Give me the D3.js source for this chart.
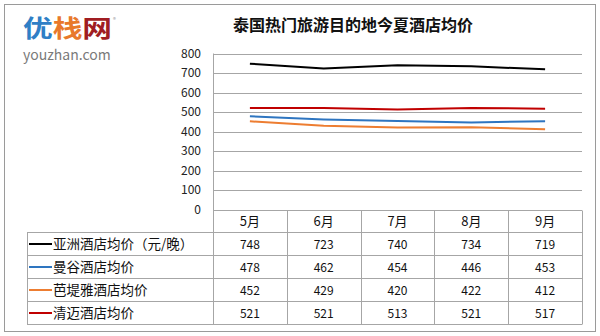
<!DOCTYPE html>
<html>
<head>
<meta charset="utf-8">
<script src="https://cdn.jsdelivr.net/npm/d3@7"></script>
<style>
  html, body { margin: 0; padding: 0; background: #fff; }
  svg { display: block; }
  text { font-family: "Noto Sans CJK SC", "Noto Sans", sans-serif; }
</style>
</head>
<body>
<svg id="chart" width="600" height="336"></svg>
<script>
// Months along the x axis
const months = ["5月", "6月", "7月", "8月", "9月"];
// Series names (legend column of the data table)
const seriesNames = ["亚洲酒店均价（元/晚）", "曼谷酒店均价", "芭堤雅酒店均价", "清迈酒店均价"];
// Average hotel prices per series, one value per month
const asiaValues = [748, 723, 740, 734, 719];
const bangkokValues = [478, 462, 454, 446, 453];
const pattayaValues = [452, 429, 420, 422, 412];
const chiangmaiValues = [521, 521, 513, 521, 517];
const seriesColors = ["#000000", "#2e75c0", "#ed7d31", "#c00000"];
// Y axis ticks
const yTicks = [0, 100, 200, 300, 400, 500, 600, 700, 800];

const seriesValues = [asiaValues, bangkokValues, pattayaValues, chiangmaiValues];

const svg = d3.select("#chart");

// Outer frame
svg.append("rect")
  .attr("x", 4.5).attr("y", 4.5).attr("width", 591).attr("height", 327)
  .attr("fill", "#fff").attr("stroke", "#9a9a9a").attr("stroke-width", 1);

// Brand logo
const logo = svg.append("text").attr("x", 23).attr("y", 37)
  .attr("font-size", 24).attr("font-weight", "bold")
  .attr("textLength", 89).attr("lengthAdjust", "spacingAndGlyphs");
logo.append("tspan").attr("fill", "#2f7fc6").text("优");
logo.append("tspan").attr("fill", "#e8792b").text("栈");
logo.append("tspan").attr("fill", "#a01d22").text("网");
svg.append("text").attr("x", 113).attr("y", 22).attr("font-size", 6)
  .attr("fill", "#999").text("®");
svg.append("text").attr("x", 23).attr("y", 60)
  .attr("font-size", 14).attr("fill", "#7a7a7a")
  .attr("font-family", "'Open Sans', 'DejaVu Sans', sans-serif")
  .text("youzhan.com");

// Title
svg.append("text").attr("x", 353).attr("y", 31)
  .attr("text-anchor", "middle").attr("font-size", 16).attr("font-weight", "bold")
  .attr("fill", "#111").text("泰国热门旅游目的地今夏酒店均价");

// Scales
const plotLeft = 213, plotRight = 582, plotTop = 53.5, plotBottom = 209.5;
const x = d3.scaleBand().domain(months).range([plotLeft, plotRight]);
const y = d3.scaleLinear().domain([0, 800]).range([plotBottom, plotTop]);

// Horizontal gridlines
svg.append("g").selectAll("line").data(yTicks).join("line")
  .attr("x1", plotLeft).attr("x2", plotRight)
  .attr("y1", d => Math.round(y(d)) + 0.5).attr("y2", d => Math.round(y(d)) + 0.5)
  .attr("stroke", "#a6a6a6").attr("stroke-width", 1);

// Y axis labels
const yAxis = d3.axisLeft(y).tickValues(yTicks).tickSize(0).tickPadding(12);
const gy = svg.append("g").attr("transform", `translate(${plotLeft},0)`).call(yAxis);
gy.select(".domain").remove();
gy.selectAll("text").attr("font-size", 12).attr("fill", "#222")
  .attr("font-family", "'DejaVu Sans', 'Noto Sans', sans-serif");

// Series lines
const line = d3.line()
  .x((d, i) => x(months[i]) + x.bandwidth() / 2)
  .y(d => y(d));
svg.append("g").selectAll("path").data(seriesValues).join("path")
  .attr("d", d => line(d))
  .attr("fill", "none")
  .attr("stroke", (d, i) => seriesColors[i])
  .attr("stroke-width", 2);

// Data table
const tableLeft = 27, headerTop = plotBottom, rowH = 23;
const headerBottom = 232;
const grid = svg.append("g").attr("stroke", "#a6a6a6").attr("stroke-width", 1);

// Row separators
const rowYs = d3.range(seriesNames.length + 1).map(i => headerBottom + i * rowH);
grid.selectAll("line.row").data(rowYs).join("line").attr("class", "row")
  .attr("x1", tableLeft).attr("x2", plotRight)
  .attr("y1", d => Math.round(d) + 0.5).attr("y2", d => Math.round(d) + 0.5);

// Column separators
const colXs = months.map(m => x(m)).concat([plotRight]);
grid.selectAll("line.col").data(colXs).join("line").attr("class", "col")
  .attr("x1", d => Math.round(d) + 0.5).attr("x2", d => Math.round(d) + 0.5)
  .attr("y1", (d, i) => i === 0 ? plotTop : Math.round(headerTop) + 0.5)
  .attr("y2", Math.round(rowYs[rowYs.length - 1]) + 0.5);
grid.append("line")
  .attr("x1", tableLeft + 0.5).attr("x2", tableLeft + 0.5)
  .attr("y1", Math.round(headerBottom) + 0.5)
  .attr("y2", Math.round(rowYs[rowYs.length - 1]) + 0.5);

// Month headers
svg.append("g").selectAll("text").data(months).join("text")
  .attr("x", d => x(d) + x.bandwidth() / 2)
  .attr("y", (headerTop + headerBottom) / 2 + 5)
  .attr("text-anchor", "middle").attr("font-size", 13).attr("fill", "#111")
  .text(d => d);

// Legend keys and names
const legend = svg.append("g").selectAll("g").data(seriesNames).join("g")
  .attr("transform", (d, i) => `translate(0,${headerBottom + i * rowH + rowH / 2})`);
legend.append("line")
  .attr("x1", tableLeft + 2).attr("x2", 52).attr("y1", 0.5).attr("y2", 0.5)
  .attr("stroke", (d, i) => seriesColors[i]).attr("stroke-width", 2);
legend.append("text").attr("x", 53).attr("y", 5)
  .attr("font-size", 13.5).attr("fill", "#111").text(d => d);

// Cell values
svg.append("g").selectAll("g").data(seriesValues).join("g")
  .attr("transform", (d, i) => `translate(0,${headerBottom + i * rowH + rowH / 2})`)
  .selectAll("text").data(d => d).join("text")
  .attr("x", (d, j) => x(months[j]) + x.bandwidth() / 2)
  .attr("y", 5)
  .attr("text-anchor", "middle").attr("font-size", 12).attr("fill", "#111")
  .attr("font-family", "'DejaVu Sans', 'Noto Sans', sans-serif")
  .text(d => d);
</script>
</body>
</html>
